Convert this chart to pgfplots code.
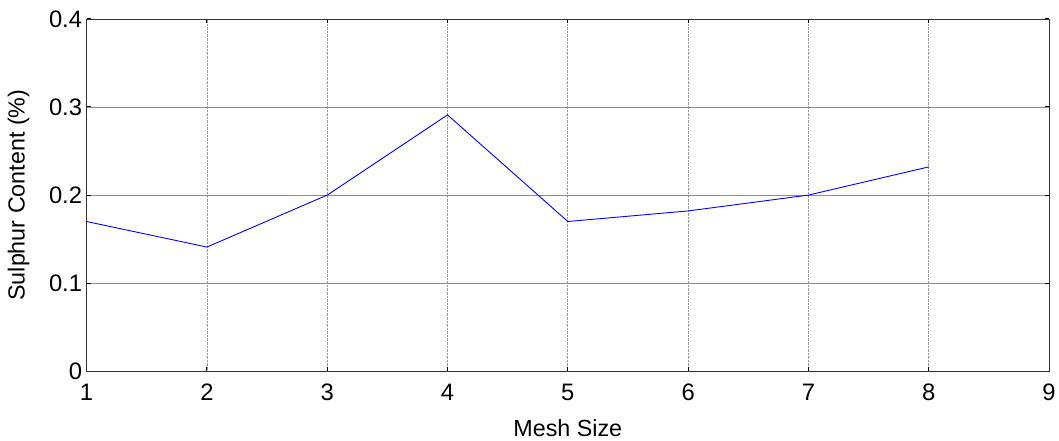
\documentclass[border=0pt]{standalone}
\usepackage{pgfplots}
\pgfplotsset{compat=1.18}
\usepackage{fontspec}
\setmainfont{Liberation Sans}
\begin{document}
\begin{tikzpicture}
\begin{axis}[
  scale only axis,
  width=967bp, height=354bp,
  xmin=1, xmax=9, ymin=0, ymax=0.4,
  xtick={1,2,...,9},
  ytick={0,0.1,0.2,0.3,0.4},
  yticklabel style={/pgf/number format/fixed, xshift=-1bp},
  xticklabel style={yshift=-9bp},
  /pgf/number format/assume math mode=true,
  tick label style={font=\fontsize{24}{28}\selectfont},
  label style={font=\fontsize{23.5}{28}\selectfont},
  xlabel={Mesh Size},
  ylabel={Sulphur Content (\%)},
  xlabel style={at={(axis description cs:0.5,0)}, anchor=north, yshift=-45bp},
  ylabel style={at={(axis description cs:0,0.5)}, anchor=south, xshift=0bp, yshift=54bp},
  xmajorgrids, ymajorgrids,
  x grid style={gray!80, densely dotted, line width=0.8pt},
  y grid style={gray!90, line width=0.6pt},
  axis line style={black!80, line width=0.8pt},
  tick style={black, line width=1pt},
  tick align=inside,
  major tick length=4bp,
  xtick pos=both, ytick pos=both,
  clip=false,
]
\addplot[blue, line width=0.9pt] coordinates {
  (1,0.170) (2,0.141) (3,0.200) (4,0.291) (5,0.170) (6,0.182) (7,0.200) (8,0.232)
};
\end{axis}
\path (current axis.south west) ++(-87bp,-70bp) coordinate (bl);
\path (current axis.north east) ++(5bp,19bp) coordinate (tr);
\path (bl) rectangle (tr);
\end{tikzpicture}
\end{document}
